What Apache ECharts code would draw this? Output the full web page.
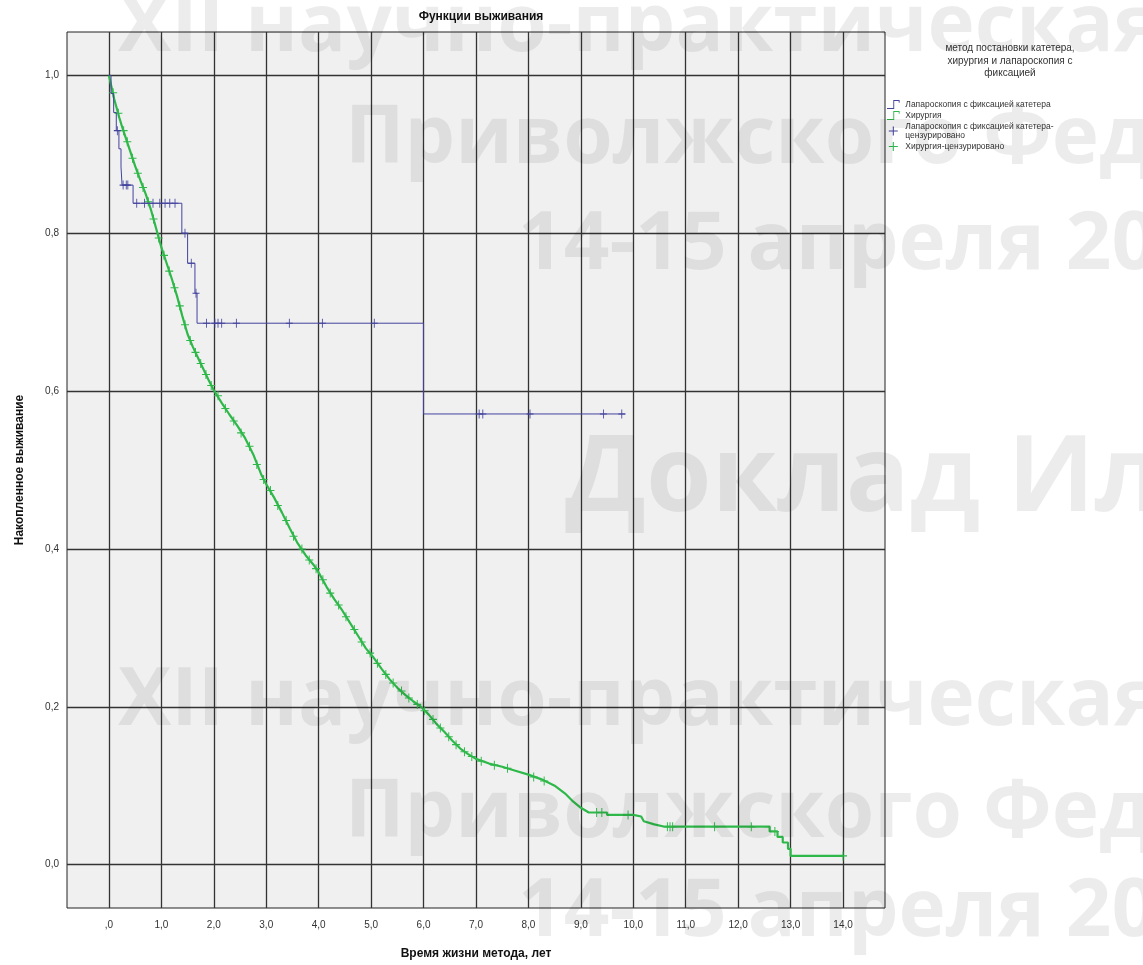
<!DOCTYPE html>
<html><head><meta charset="utf-8">
<script src="https://cdn.jsdelivr.net/npm/echarts@6/dist/echarts.min.js"></script>
<style>html,body{margin:0;padding:0;background:#fff}#c{width:1143px;height:965px}</style>
</head><body><div id="c"></div>
<script>
// ---------- texts ----------
const chartTitle = 'Функции выживания';
const legendTitle = 'метод постановки катетера,\nхирургия и лапароскопия с\nфиксацией';
const xAxisName = 'Время жизни метода, лет';
const yAxisName = 'Накопленное выживание';
const seriesNames = [
  'Лапароскопия с фиксацией катетера',
  'Хирургия',
  'Лапароскопия с фиксацией катетера-цензурировано',
  'Хирургия-цензурировано'
];
const watermarkLines = ['XII научно-практическая', 'Приволжского Федерального', '14-15 апреля 2016', 'Доклад Ил'];

// ---------- ticks ----------
const xTickValues = [0,1,2,3,4,5,6,7,8,9,10,11,12,13,14];
const xTickLabels = [',0','1,0','2,0','3,0','4,0','5,0','6,0','7,0','8,0','9,0','10,0','11,0','12,0','13,0','14,0'];
const yTickValues = [0,0.2,0.4,0.6,0.8,1.0];
const yTickLabels = ['0,0','0,2','0,4','0,6','0,8','1,0'];

// ---------- Laparoscopy (blue) survival steps ----------
const lapTimes = [0, 0.04, 0.09, 0.14, 0.19, 0.23, 0.25, 0.46, 1.39, 1.50, 1.64, 1.68, 6.0, 9.85];
const lapSurv  = [1.0, 0.977, 0.953, 0.93, 0.907, 0.884, 0.861, 0.838, 0.80, 0.762, 0.724, 0.686, 0.571, 0.571];
// censored (blue)
const lapCensTimes = [0.16, 0.27, 0.33, 0.36, 0.53, 0.68, 0.84, 0.97, 1.07, 1.16, 1.26, 1.45, 1.57, 1.66, 1.86, 2.02, 2.08, 2.15, 2.43, 3.44, 4.07, 5.06, 7.06, 7.13, 8.03, 9.43, 9.78];
const lapCensSurv  = [0.93, 0.861, 0.861, 0.861, 0.838, 0.838, 0.838, 0.838, 0.838, 0.838, 0.838, 0.80, 0.762, 0.724, 0.686, 0.686, 0.686, 0.686, 0.686, 0.686, 0.686, 0.686, 0.571, 0.571, 0.571, 0.571, 0.571];

// ---------- Surgery (green) survival curve vertices ----------
const surTimes = [0, 0.05, 0.1, 0.15, 0.2, 0.25, 0.3, 0.4, 0.5, 0.6, 0.7, 0.8, 0.9, 1.0, 1.1, 1.2, 1.3, 1.4, 1.5, 1.6, 1.7, 1.8, 1.9, 2.0,
  2.15, 2.3, 2.45, 2.6, 2.75, 2.9, 3.0, 3.15, 3.3, 3.45, 3.6, 3.75, 3.9, 4.0, 4.15, 4.3, 4.45, 4.6, 4.75, 4.9, 5.05, 5.2, 5.35, 5.5, 5.65, 5.8, 5.95,
  6.1, 6.25, 6.4, 6.55, 6.7, 6.85, 7.0, 7.25, 7.5, 7.75, 8.0, 8.25, 8.5, 8.7, 8.85, 9.0, 9.15, 9.5, 9.5, 10.0, 10.0, 10.15, 10.2, 10.4, 10.6,
  12.6, 12.6, 12.75, 12.75, 12.85, 12.85, 12.95, 12.95, 13.0, 13.0, 14.0];
const surSurv  = [1.0, 0.985, 0.97, 0.958, 0.946, 0.935, 0.925, 0.905, 0.885, 0.867, 0.85, 0.83, 0.806, 0.782, 0.762, 0.742, 0.72, 0.695, 0.672, 0.656, 0.642, 0.628, 0.614, 0.601,
  0.585, 0.57, 0.556, 0.54, 0.52, 0.495, 0.482, 0.465, 0.446, 0.426, 0.407, 0.392, 0.38, 0.37, 0.352, 0.336, 0.322, 0.306, 0.29, 0.274, 0.262, 0.248, 0.235, 0.224, 0.215, 0.207, 0.2,
  0.19, 0.178, 0.168, 0.157, 0.147, 0.14, 0.134, 0.128, 0.124, 0.119, 0.114, 0.108, 0.1, 0.09, 0.08, 0.072, 0.066, 0.066, 0.063, 0.063, 0.061, 0.061, 0.055, 0.051, 0.048,
  0.048, 0.042, 0.042, 0.035, 0.035, 0.028, 0.028, 0.02, 0.02, 0.011, 0.011];
// censored (green)
const surCensTimes = [0.08, 0.18, 0.28, 0.35, 0.45, 0.55, 0.65, 0.75, 0.85, 0.95, 1.05, 1.15, 1.25, 1.35, 1.45, 1.55, 1.65, 1.75, 1.85, 1.95,
  2.08, 2.22, 2.38, 2.52, 2.68, 2.82, 2.95, 3.08, 3.22, 3.38, 3.52, 3.68, 3.82, 3.95, 4.08, 4.22, 4.38, 4.52, 4.68, 4.82, 4.98,
  5.12, 5.28, 5.42, 5.58, 5.72, 5.88, 6.02, 6.18, 6.32, 6.48, 6.62, 6.78, 6.92, 7.1, 7.35, 7.6, 8.1, 8.3, 9.3, 9.4, 9.9, 10.65, 10.7, 10.75, 11.55, 12.25, 12.7, 14.0];
const surCensSurv  = [0.978, 0.952, 0.93, 0.916, 0.895, 0.876, 0.858, 0.84, 0.818, 0.794, 0.772, 0.752, 0.731, 0.708, 0.684, 0.664, 0.649, 0.635, 0.621, 0.607,
  0.594, 0.578, 0.562, 0.547, 0.53, 0.507, 0.488, 0.474, 0.455, 0.436, 0.416, 0.4, 0.386, 0.375, 0.361, 0.344, 0.329, 0.314, 0.298, 0.282, 0.268,
  0.255, 0.241, 0.23, 0.22, 0.211, 0.203, 0.195, 0.184, 0.173, 0.162, 0.152, 0.143, 0.137, 0.131, 0.126, 0.122, 0.111, 0.106, 0.066, 0.066, 0.063, 0.048, 0.048, 0.048, 0.048, 0.048, 0.042, 0.011];

// ---------- build ----------
const pairs = (a, b) => a.map((v, i) => [v, b[i]]);
const BLUE = '#43439e', GREEN = '#2fb84a';
const plusPath = 'path://M4.4,0 H5.6 V4.4 H10 V5.6 H5.6 V10 H4.4 V5.6 H0 V4.4 H4.4 Z';
const stepIcon = 'path://M0,9 L7,9 L7,0 L14,0 L14,3 L13,3 L13,1 L8,1 L8,10 L0,10 Z';
const FONT = '"Liberation Sans", Arial, sans-serif';
const WM = 'rgba(0,0,0,0.075)';
const WMFONT = '"Open Sans", "Noto Sans", sans-serif';

const chart = echarts.init(document.getElementById('c'), null, {renderer: 'canvas'});
chart.setOption({
  backgroundColor: '#ffffff',
  animation: false,
  title: [
    {text: chartTitle, left: 476, textAlign: 'center', top: 6,
     textStyle: {fontFamily: FONT, fontSize: 12, fontWeight: 'bold', color: '#111'}},
    {text: legendTitle, left: 1005, textAlign: 'center', top: 37,
     textStyle: {fontFamily: FONT, fontSize: 10, fontWeight: 'normal', color: '#333', lineHeight: 12.5}}
  ],
  legend: {
    orient: 'vertical', left: 882, top: 95, itemWidth: 14, itemHeight: 9, itemGap: 2,
    textStyle: {fontFamily: FONT, fontSize: 8.5, color: '#333', lineHeight: 9},
    formatter: n => n === seriesNames[2] ? 'Лапароскопия с фиксацией катетера-\nцензурировано' : n,
    data: [
      {name: seriesNames[0], icon: stepIcon, itemStyle: {color: BLUE}},
      {name: seriesNames[1], icon: stepIcon, itemStyle: {color: GREEN}},
      {name: seriesNames[2], icon: plusPath, itemStyle: {color: BLUE}},
      {name: seriesNames[3], icon: plusPath, itemStyle: {color: GREEN}}
    ]
  },
  grid: {left: 67, right: 258, top: 32, bottom: 57, show: true, backgroundColor: '#f0f0f0', borderColor: '#222', borderWidth: 1},
  xAxis: {
    type: 'value', min: -0.8, max: 14.8,
    name: xAxisName, nameLocation: 'middle', nameGap: 40,
    nameTextStyle: {fontFamily: FONT, fontSize: 12, fontWeight: 'bold', color: '#111'},
    axisLine: {show: false},
    axisTick: {show: true, customValues: xTickValues, length: 8, lineStyle: {color: '#333'}},
    axisLabel: {customValues: xTickValues, margin: 12, fontFamily: FONT, fontSize: 10, color: '#333',
      formatter: v => xTickLabels[xTickValues.indexOf(v)]},
    splitLine: {show: true, lineStyle: {color: '#333', width: 1.3}}
  },
  yAxis: {
    type: 'value', min: -0.055, max: 1.055,
    name: yAxisName, nameLocation: 'middle', nameGap: 41,
    nameTextStyle: {fontFamily: FONT, fontSize: 12, fontWeight: 'bold', color: '#111'},
    axisLine: {show: false},
    axisTick: {show: true, customValues: yTickValues, length: 5, lineStyle: {color: '#333'}},
    axisLabel: {customValues: yTickValues, margin: 8, fontFamily: FONT, fontSize: 10, color: '#333',
      formatter: v => yTickLabels[yTickValues.findIndex(t => Math.abs(t - v) < 1e-6)]},
    splitLine: {show: true, lineStyle: {color: '#333', width: 1.3}}
  },
  series: [
    {name: seriesNames[0], type: 'line', step: 'end', data: pairs(lapTimes, lapSurv), showSymbol: false,
     lineStyle: {color: BLUE, width: 1}, itemStyle: {color: BLUE}, z: 4},
    {name: seriesNames[1], type: 'line', data: pairs(surTimes, surSurv), showSymbol: false,
     lineStyle: {color: GREEN, width: 2.2}, itemStyle: {color: GREEN}, z: 3},
    {name: seriesNames[2], type: 'scatter', data: pairs(lapCensTimes, lapCensSurv), symbol: plusPath, symbolSize: [7, 9],
     itemStyle: {color: BLUE, opacity: 1}, z: 5},
    {name: seriesNames[3], type: 'scatter', data: pairs(surCensTimes, surCensSurv), symbol: plusPath, symbolSize: [8, 9],
     itemStyle: {color: GREEN, opacity: 1}, z: 3}
  ],
  graphic: [
    {type: 'text', left: 118, top: -12, z: 100, silent: true, style: {text: watermarkLines[0], font: 'bold 80px ' + WMFONT, fill: WM}},
    {type: 'text', left: 345, top: 100, z: 100, silent: true, style: {text: watermarkLines[1], font: 'bold 80px ' + WMFONT, fill: WM}},
    {type: 'text', left: 518, top: 206, z: 100, silent: true, style: {text: watermarkLines[2], font: 'bold 80px ' + WMFONT, fill: WM}},
    {type: 'text', left: 565, top: 428, z: 100, silent: true, style: {text: watermarkLines[3], font: 'bold 106px ' + WMFONT, fill: WM}},
    {type: 'text', left: 118, top: 662, z: 100, silent: true, style: {text: watermarkLines[0], font: 'bold 80px ' + WMFONT, fill: WM}},
    {type: 'text', left: 345, top: 774, z: 100, silent: true, style: {text: watermarkLines[1], font: 'bold 80px ' + WMFONT, fill: WM}},
    {type: 'text', left: 518, top: 873, z: 100, silent: true, style: {text: watermarkLines[2], font: 'bold 80px ' + WMFONT, fill: WM}}
  ]
});
</script>
</body></html>
